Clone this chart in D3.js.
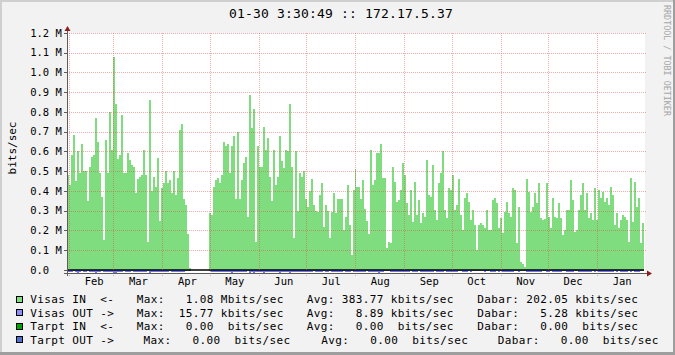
<!DOCTYPE html>
<html><head><meta charset="utf-8">
<script src="https://cdn.jsdelivr.net/npm/d3@7/dist/d3.min.js"></script>
<style>html,body{margin:0;padding:0;background:#F2F2F2;} svg{display:block;} text{white-space:pre;}</style>
</head><body>
<svg id="c" width="675" height="355"></svg>
<script>
// ---------- data ----------
const titleText = "01-30 3:30:49 :: 172.17.5.37";
const yAxisTitle = "bits/sec";
const watermark = "RRDTOOL / TOBI OETIKER";
const rangeStart = new Date(2010, 0, 30, 15, 30);
const rangeEnd = new Date(2011, 0, 30, 15, 30);
const yTickValues = [0, 0.1, 0.2, 0.3, 0.4, 0.5, 0.6, 0.7, 0.8, 0.9, 1.0, 1.1, 1.2];
const yTickLabels = ["0.0", "0.1 M", "0.2 M", "0.3 M", "0.4 M", "0.5 M", "0.6 M", "0.7 M", "0.8 M", "0.9 M", "1.0 M", "1.1 M", "1.2 M"];

// Visas IN (Mbits/sec), one value per step across the year
const visasIn = [
0.48,0.43,0.58,0.685,0.45,0.60,0.49,0.64,0.50,0.50,
0.35,0.52,0.57,0.58,0.77,0.65,0.49,0.37,0.15,0.66,
0.49,0.80,0.61,1.08,0.84,0.56,0.58,0.785,0.49,0.49,
0.59,0.557,0.532,0.523,0.39,0.46,0.469,0.481,0.61,0.48,
0.14,0.86,0.40,0.47,0.42,0.565,0.25,0.413,0.44,0.50,
0.44,0.456,0.388,0.50,0.38,0.464,0.71,0.74,0.36,0.33,
0.18,0.01,null,null,null,null,null,null,null,null,
null,0.29,0.28,0.42,0.456,0.464,0.44,0.48,0.65,0.63,
0.64,0.49,0.63,0.68,0.36,0.70,0.36,0.456,0.54,0.574,
0.27,0.886,0.72,0.815,0.14,0.63,0.523,0.523,0.725,0.61,
0.67,0.472,0.35,0.61,0.43,0.47,0.68,0.55,0.515,0.61,
0.60,0.84,0.52,0.16,0.60,0.30,0.49,0.47,0.50,0.36,
0.32,0.40,0.46,0.33,0.30,0.296,0.38,0.44,0.22,0.33,
0.30,0.16,0.296,0.39,0.29,0.36,0.36,0.36,0.20,0.27,
0.43,0.23,0.075,0.405,0.51,0.42,0.42,0.36,0.456,0.31,
0.25,0.18,0.61,0.43,0.456,0.59,0.59,0.64,0.464,0.464,
0.11,0.14,0.135,0.523,0.447,0.346,0.354,0.405,0.54,0.48,
0.338,0.279,0.405,0.245,0.447,0.279,0.354,0.236,0.287,0.27,
0.557,0.38,0.371,0.532,0.304,0.253,0.439,0.489,0.60,0.304,
0.262,0.413,0.405,0.481,0.304,0.329,0.459,0.279,0.203,0.363,
0.388,0.346,0.253,0.304,0.228,0.10,0.228,0.236,0.228,0.211,
0.304,0.203,0.203,0.354,0.363,0.338,0.211,0.262,0.186,0.296,
0.346,0.287,0.27,0.413,0.405,0.135,0.32,0.042,0.03,0.017,
0.46,0.397,0.296,0.321,0.388,0.338,0.439,0.262,0.253,0.257,
0.439,0.27,0.211,0.363,0.27,0.262,0.338,0.262,0.177,0.203,
0.304,0.304,0.456,0.354,0.194,0.203,0.304,0.38,0.442,0.304,
0.388,0.262,0.287,0.253,0.413,0.253,0.405,0.363,0.397,0.346,
0.363,0.329,0.422,0.38,0.228,0.287,0.211,0.253,0.279,0.27,
0.253,0.143,0.464,0.245,0.447,0.321,0.363,0.135,0.24
];
// Visas OUT (kbits/sec), drawn mirrored below zero
const visasOut = [
9,12,8,6,9,13,10,7,9,8, 6,9,11,8,14,12,9,7,8,10,
12,9,8,13,15,10,9,8,7,9, 10,8,6,9,11,9,8,10,12,9,
7,13,11,9,8,10,9,12,11,8, 9,7,10,8,9,11,12,9,8,6,
5,3,null,null,null,null,null,null,null,null,
null,7,9,8,10,9,11,12,9,8, 10,9,13,11,8,12,9,10,9,8,
7,15,12,14,9,11,10,12,13,11, 10,9,8,12,9,11,13,10,9,11,
12,14,10,8,11,9,10,9,11,8, 9,10,8,7,9,8,9,10,7,8,
9,6,8,9,8,9,10,9,7,8, 10,8,6,9,11,10,9,8,10,8,
7,8,12,10,11,12,13,10,9,6, 6,7,11,9,8,9,10,12,10,8,
8,9,7,10,8,9,7,8,8,12, 9,9,11,8,7,10,11,12,8,7,
9,9,10,8,8,10,7,6,8,9, 8,7,8,7,5,7,7,7,7,8,
7,7,9,9,8,7,8,6,8,9, 8,8,10,9,7,5,8,4,3,3,
10,9,8,8,9,8,10,8,7,7, 10,8,7,9,8,8,8,8,6,7,
8,8,10,9,7,7,8,9,10,8, 9,8,8,7,9,7,9,9,9,8,
9,8,10,9,7,8,7,8,8,8, 8,6,10,7,9,8,8,6,7
];

// legend
const legendNames = ["Visas IN  <-", "Visas OUT ->", "Tarpt IN  <-", "Tarpt OUT ->"];
const legendColors = ["#7FDF7F", "#8C8CFF", "#00A400", "#4F70CC"];
const maxValues = [1.08, 15.77, 0.00, 0.00];
const maxPrefix = ["M", "k", " ", " "];
const avgValues = [383.77, 8.89, 0.00, 0.00];
const avgPrefix = ["k", "k", " ", " "];
const dabarValues = [202.05, 5.28, 0.00, 0.00];
const dabarPrefix = ["k", "k", " ", " "];

// ---------- layout ----------
const W = 675, H = 355;
const L = 67, R = 644, T = 33, B = 273;
const MONO = "'DejaVu Sans Mono', monospace";
const gridColor = "rgba(228,70,70,0.45)";
const axisColor = "#5c5c5c";
const arrowColor = "#8E1E1E";
const greenFill = "#7FDC7F";
const blueFill = "#7474FA";
const keep = s => s.replace(/ /g, "\u00A0");

const svg = d3.select("#c");

// background and 3d frame
svg.append("rect").attr("width", W).attr("height", H).attr("fill", "#F2F2F2");
svg.append("rect").attr("x", 0).attr("y", 0).attr("width", W).attr("height", 2).attr("fill", "#CFCFCF");
svg.append("rect").attr("x", 0).attr("y", 0).attr("width", 2).attr("height", H).attr("fill", "#CFCFCF");
svg.append("rect").attr("x", W - 2).attr("y", 0).attr("width", 2).attr("height", H).attr("fill", "#9E9E9E");
svg.append("rect").attr("x", 0).attr("y", H - 3).attr("width", W).attr("height", 3).attr("fill", "#9E9E9E");

// canvas
svg.append("rect").attr("x", L).attr("y", T).attr("width", R - L + 1).attr("height", B - T).attr("fill", "#FFFFFF");

const x = d3.scaleTime().domain([rangeStart, rangeEnd]).range([L, R]);
const y = d3.scaleLinear().domain([-0.0152, 1.2]).range([B, T]);

const stepMs = (rangeEnd - rangeStart) / visasIn.length;
const rows = visasIn.map((v, i) => ({
  t0: new Date(+rangeStart + i * stepMs),
  t1: new Date(+rangeStart + (i + 1) * stepMs),
  v: v,
  o: visasOut[i]
}));

// green area (IN)
svg.append("g").attr("shape-rendering", "crispEdges")
  .selectAll("rect").data(rows.filter(d => d.v != null)).join("rect")
  .attr("x", d => x(d.t0))
  .attr("width", d => x(d.t1) - x(d.t0))
  .attr("y", d => y(d.v))
  .attr("height", d => y(0) - y(d.v))
  .attr("fill", greenFill);

// blue area (OUT), mirrored
svg.append("g").attr("shape-rendering", "crispEdges")
  .selectAll("rect").data(rows.filter(d => d.o != null)).join("rect")
  .attr("x", d => x(d.t0))
  .attr("width", d => x(d.t1) - x(d.t0))
  .attr("y", y(0))
  .attr("height", d => y(-d.o / 1000) - y(0))
  .attr("fill", blueFill);

// zero line
svg.append("line").attr("x1", L).attr("x2", R).attr("y1", y(0)).attr("y2", y(0))
  .attr("stroke", "#000").attr("stroke-width", 1.5);

// grid
const grid = svg.append("g").attr("shape-rendering", "crispEdges");
grid.selectAll("line.h").data(yTickValues.filter(v => v > 0)).join("line")
  .attr("x1", L).attr("x2", R + 3)
  .attr("y1", d => Math.round(y(d)) + 0.5).attr("y2", d => Math.round(y(d)) + 0.5)
  .attr("stroke", gridColor).attr("stroke-dasharray", "1,1");
const months = d3.timeMonth.range(rangeStart, rangeEnd);
grid.selectAll("line.v").data(months).join("line")
  .attr("x1", d => Math.round(x(d)) + 0.5).attr("x2", d => Math.round(x(d)) + 0.5)
  .attr("y1", T).attr("y2", B + 3)
  .attr("stroke", gridColor).attr("stroke-dasharray", "1,1");

// axes
const ax = svg.append("g").attr("shape-rendering", "crispEdges");
ax.append("line").attr("x1", L + 0.5).attr("x2", L + 0.5).attr("y1", T - 5).attr("y2", B + 3)
  .attr("stroke", axisColor);
ax.append("line").attr("x1", L - 3).attr("x2", R + 3).attr("y1", B + 0.5).attr("y2", B + 0.5)
  .attr("stroke", axisColor);
ax.selectAll("line.t").data(yTickValues).join("line")
  .attr("x1", L - 3).attr("x2", L)
  .attr("y1", d => Math.round(y(d)) + 0.5).attr("y2", d => Math.round(y(d)) + 0.5)
  .attr("stroke", axisColor);
// arrows
svg.append("path").attr("d", `M${L - 2.5},${T - 2} L${L + 3.5},${T - 2} L${L + 0.5},${T - 7} Z`).attr("fill", arrowColor);
svg.append("path").attr("d", `M${R + 3},${B - 2.5} L${R + 3},${B + 3.5} L${R + 8},${B + 0.5} Z`).attr("fill", arrowColor);

// y labels
svg.append("g").selectAll("text").data(yTickValues).join("text")
  .attr("x", 30.2).attr("y", d => y(d) + 3.7)
  .attr("font-family", MONO).attr("font-size", 10.5).attr("fill", "#000")
  .text((d, i) => keep(yTickLabels[i]));

// month labels
svg.append("g").selectAll("text").data(months).join("text")
  .attr("x", d => x(new Date(+d + 15.8 * 86400000)))
  .attr("y", 285.3)
  .attr("text-anchor", "middle")
  .attr("font-family", MONO).attr("font-size", 10.5).attr("fill", "#000")
  .text(d => d3.timeFormat("%b")(d));

// title
svg.append("text").attr("x", 341).attr("y", 18.4).attr("text-anchor", "middle")
  .attr("font-family", MONO).attr("font-size", 13).attr("letter-spacing", 0.17)
  .attr("fill", "#000").text(keep(titleText));

// y axis title
svg.append("text").attr("transform", "translate(15.5,148) rotate(-90)")
  .attr("text-anchor", "middle").attr("font-family", MONO).attr("font-size", 11)
  .attr("fill", "#000").text(yAxisTitle);

// watermark
svg.append("text").attr("transform", "translate(663.5,5) rotate(90)")
  .attr("font-family", MONO).attr("font-size", 8.4).attr("fill", "#A6A6A6")
  .text(keep(watermark));

// legend
const fmt = d3.format("6.2f");
const legendRowY = [299.5, 313, 326.5, 340];
const colMax = [136.8, 136.8, 136.8, 143.5];
const colAvg = [306.8, 306.8, 306.8, 321.2];
const colDabar = [477.2, 477.2, 477.2, 497.8];
const lg = svg.append("g").attr("font-family", MONO).attr("font-size", 11)
  .attr("letter-spacing", 0.38).attr("fill", "#000");
legendNames.forEach((name, i) => {
  const cy = legendRowY[i];
  lg.append("rect").attr("x", 16.5).attr("y", cy - 3.5).attr("width", 6).attr("height", 6)
    .attr("fill", legendColors[i]).attr("stroke", "#000").attr("stroke-width", 1)
    .attr("shape-rendering", "crispEdges");
  const by = cy + 3.8;
  lg.append("text").attr("x", 30.2).attr("y", by).text(keep(name));
  lg.append("text").attr("x", colMax[i]).attr("y", by)
    .text(keep("Max: " + fmt(maxValues[i]) + " " + maxPrefix[i] + "bits/sec"));
  lg.append("text").attr("x", colAvg[i]).attr("y", by)
    .text(keep("Avg: " + fmt(avgValues[i]) + " " + avgPrefix[i] + "bits/sec"));
  lg.append("text").attr("x", colDabar[i]).attr("y", by)
    .text(keep("Dabar: " + fmt(dabarValues[i]) + " " + dabarPrefix[i] + "bits/sec"));
});
</script>
</body></html>
